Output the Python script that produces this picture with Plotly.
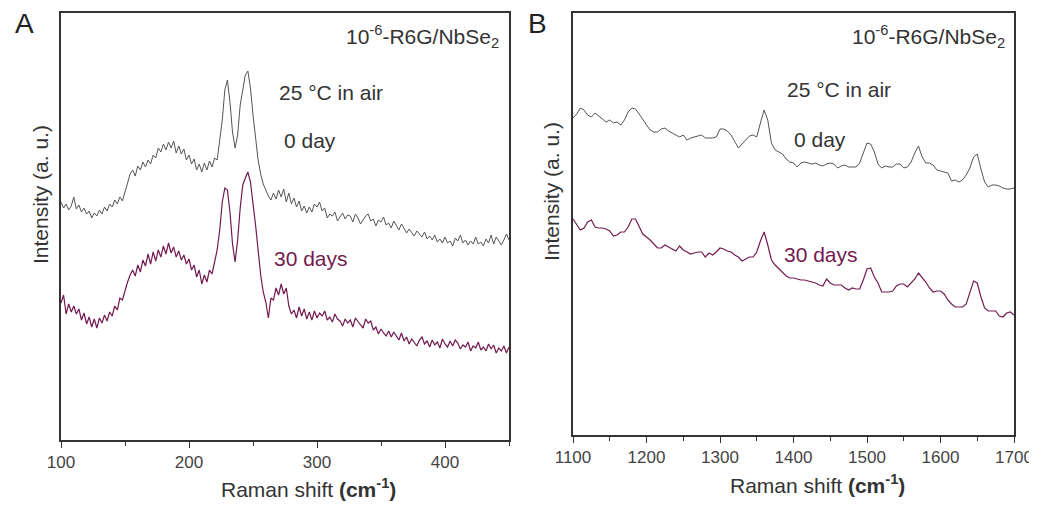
import plotly.graph_objects as go

# Panel A: low-wavenumber region (intensity in arbitrary units)
shift_a = list(range(100, 451, 2))
day0_a = [
    238, 232, 236, 230, 234, 243, 231, 235, 228, 232, 226, 229, 222, 227, 224, 230,
    226, 233, 229, 236, 233, 240, 236, 243, 239, 248, 256, 266, 270, 264, 274, 270,
    278, 273, 280, 276, 285, 282, 292, 288, 296, 290, 298, 292, 299, 287, 294, 286,
    291, 280, 285, 276, 281, 270, 276, 268, 277, 270, 279, 273, 282, 280, 300, 320,
    350, 360, 338, 308, 292, 305, 335, 352, 365, 369, 352, 325, 300, 280, 266, 256,
    250, 244, 240, 247, 241, 250, 243, 251, 238, 247, 236, 242, 233, 239, 229, 234,
    227, 233, 228, 236,
    233, 238, 229, 232, 222, 226, 224, 228, 219, 223, 227, 221, 225, 224, 218, 226,
    222, 216, 220, 224, 226, 219, 221, 214, 220, 218, 223, 215, 217, 212, 219, 214,
    210, 216, 212, 207, 211, 208, 204, 209, 206, 203, 208, 201, 204, 200, 205, 198,
    201, 197, 203, 197, 199, 194, 202, 199, 205, 197, 200, 195, 199, 196, 203, 196,
    198, 194, 201, 197, 205, 196, 203, 199, 195, 200, 206, 200,
]
day30_a = [
    137, 145, 126, 136, 128, 134, 126, 131, 120, 127, 116, 123, 113, 121, 112, 122,
    117, 125, 119, 128, 124, 134, 130, 142, 140, 150, 158, 165, 170, 164, 175, 168,
    180, 174, 186, 176, 188, 179, 190, 183, 194, 186, 197, 187, 193, 183, 189, 180,
    185, 176, 181, 170, 175, 163, 170, 156, 165, 158, 170, 166, 178, 190, 210, 238,
    252, 250, 228, 196, 178, 200, 232, 255, 262, 268, 258, 238, 215, 190, 165, 148,
    138, 122, 142, 140, 152, 145, 156, 146, 152, 134, 126, 130, 122, 133, 124, 131,
    121, 128, 120, 129,
    122, 127, 124, 129, 120, 123, 118, 126, 121, 119, 114, 121, 117, 120, 113, 122,
    118, 115, 112, 121, 117, 119, 110, 113, 106, 111, 107, 104, 109, 103, 108, 104,
    100, 107, 99, 103, 96, 101, 97, 94, 100, 103, 96, 99, 93, 100, 95, 98,
    92, 101, 96, 93, 99, 94, 100, 97, 91, 95, 93, 98, 89, 94, 92, 98,
    90, 93, 89, 96, 91, 95, 87, 92, 89, 94, 87, 93,
]

# Panel B: fingerprint region
shift_b = list(range(1100, 1701, 5))
day0_b = [
    317, 321, 327, 325, 320, 318, 322, 319, 316, 313, 315, 312, 313, 310, 315, 323,
    327, 326, 321, 315, 310, 305, 303, 303, 306, 307, 304, 302, 300, 298, 300, 295,
    297, 298, 299, 300, 297, 297, 297, 298, 306, 306, 304, 300, 293, 287, 291, 295,
    299, 300, 298, 312, 325, 315, 292, 285, 283, 281, 276, 273, 272, 268, 272, 273,
    272, 271, 272, 270, 269, 271, 272, 271, 267, 269, 270, 268, 268, 268, 272, 282,
    292, 291, 283, 271, 267, 269, 268, 268, 271, 271, 267, 268, 273, 282, 289, 278,
    272, 272, 270, 265, 264, 263, 262, 254, 255, 253, 255, 260, 267, 278, 281, 266,
    253, 248, 250, 250, 249, 247, 246, 246, 247,
]
day30_b = [
    216, 211, 205, 207, 213, 215, 208, 207, 207, 206, 204, 199, 200, 203, 203, 208,
    216, 216, 208, 201, 198, 195, 191, 187, 187, 190, 188, 186, 184, 189, 185, 183,
    181, 182, 183, 183, 178, 182, 180, 183, 187, 186, 184, 183, 180, 178, 174, 176,
    178, 178, 183, 194, 203, 190, 175, 170, 166, 162, 159, 157, 157, 156, 155, 155,
    154, 153, 152, 150, 149, 156, 152, 150, 150, 150, 147, 145, 147, 146, 146, 155,
    166, 167, 158, 152, 143, 143, 143, 144, 149, 151, 151, 148, 152, 156, 162, 158,
    153, 147, 143, 144, 144, 141, 135, 131, 128, 128, 128, 131, 142, 154, 152, 138,
    127, 124, 124, 124, 119, 118, 122, 123, 120,
]

GRAY = "#555555"
MAROON = "#741a50"
TEXT = "#333333"
FONT = "Liberation Sans, Arial, sans-serif"

# the page body adds an 8 px margin, so positions are shifted by that amount
OFF = 8
W, H = 1037, 506

fig = go.Figure()
fig.add_trace(go.Scatter(x=shift_a, y=day0_a, mode="lines", line=dict(color=GRAY, width=1),
                         xaxis="x", yaxis="y", name="0 day"))
fig.add_trace(go.Scatter(x=shift_a, y=day30_a, mode="lines", line=dict(color=MAROON, width=1.2),
                         xaxis="x", yaxis="y", name="30 days"))
fig.add_trace(go.Scatter(x=shift_b, y=day0_b, mode="lines", line=dict(color=GRAY, width=1),
                         xaxis="x2", yaxis="y2", name="0 day"))
fig.add_trace(go.Scatter(x=shift_b, y=day30_b, mode="lines", line=dict(color=MAROON, width=1.2),
                         xaxis="x2", yaxis="y2", name="30 days"))


def px_x(p):
    return (p - OFF) / W


def px_y(p):
    return 1 - (p - OFF) / H


def xaxis_style(rng, dom, anchor):
    return dict(
        range=rng, domain=dom, anchor=anchor, dtick=100, showgrid=False, zeroline=False,
        automargin=False,
        showline=True, linecolor="#333333", linewidth=1.5, mirror=True,
        ticks="outside", ticklen=6, tickwidth=1.2, tickcolor="#333333",
        minor=dict(ticks="outside", ticklen=4, dtick=50, tickcolor="#333333", showgrid=False),
        tickfont=dict(family=FONT, size=17, color="#444444"), ticklabelstandoff=0,
        ticklabeloverflow="allow",
    )


def yaxis_style(rng, dom, anchor):
    return dict(
        range=rng, domain=dom, anchor=anchor, showgrid=False, zeroline=False,
        automargin=False,
        showline=True, linecolor="#333333", linewidth=1.5, mirror=True,
        ticks="", showticklabels=False,
    )


fig.update_layout(
    width=W, height=H, margin=dict(l=0, r=0, t=0, b=0, autoexpand=False),
    paper_bgcolor="white", plot_bgcolor="white", showlegend=False,
    font=dict(family=FONT, color=TEXT),
    xaxis=xaxis_style([100, 450], [px_x(61), px_x(509)], "y"),
    yaxis=yaxis_style([0, 427], [px_y(440), px_y(13)], "x"),
    xaxis2=xaxis_style([1100, 1700], [px_x(573), px_x(1014)], "y2"),
    yaxis2=yaxis_style([0, 422], [px_y(435), px_y(13)], "x2"),
)

notes = [
    # (text, x px, y px, size, color, xanchor, angle)
    ("A", 24, 23, 28, "#222222", "center", 0),
    ("B", 537, 23, 28, "#222222", "center", 0),
    ("10<sup>-6</sup>-R6G/NbSe<sub>2</sub>", 501, 36, 21, TEXT, "right", 0),
    ("10<sup>-6</sup>-R6G/NbSe<sub>2</sub>", 1007, 36, 21, TEXT, "right", 0),
    ("25 °C in air", 277, 92, 21, TEXT, "left", 0),
    ("0 day", 282, 140, 21, TEXT, "left", 0),
    ("30 days", 272, 258, 21, MAROON, "left", 0),
    ("25 °C in air", 785, 90, 21, TEXT, "left", 0),
    ("0 day", 792, 139, 21, TEXT, "left", 0),
    ("30 days", 782, 254, 21, MAROON, "left", 0),
    ("Raman shift <b>(cm<sup>-1</sup>)</b>", 308, 488, 21, TEXT, "center", 0),
    ("Raman shift <b>(cm<sup>-1</sup>)</b>", 817, 484, 21, TEXT, "center", 0),
    ("Intensity (a. u.)", 40, 195, 21, TEXT, "center", -90),
    ("Intensity (a. u.)", 551, 192, 21, TEXT, "center", -90),
]
for text, x, y, size, color, xa, ang in notes:
    fig.add_annotation(text=text, x=px_x(x), y=px_y(y), xref="paper", yref="paper",
                       xanchor=xa, yanchor="middle", showarrow=False, textangle=ang,
                       font=dict(family=FONT, size=size, color=color))

fig.write_html("out.html")
